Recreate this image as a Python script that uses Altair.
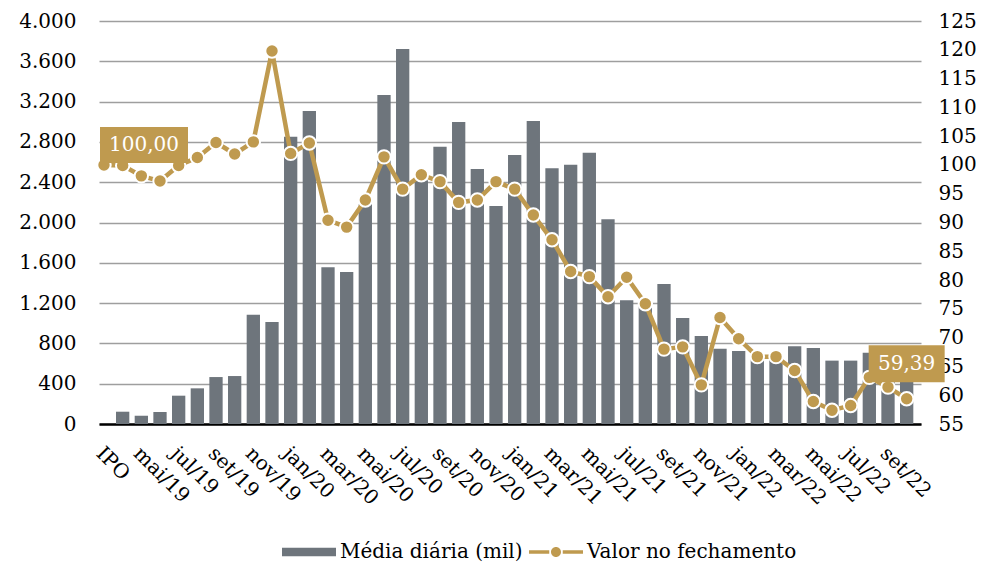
import altair as alt
import pandas as pd

# ---------------- data ----------------
months = ["IPO", "abr/19", "mai/19", "jun/19", "jul/19", "ago/19", "set/19", "out/19",
          "nov/19", "dez/19", "jan/20", "fev/20", "mar/20", "abr/20", "mai/20", "jun/20",
          "jul/20", "ago/20", "set/20", "out/20", "nov/20", "dez/20", "jan/21", "fev/21",
          "mar/21", "abr/21", "mai/21", "jun/21", "jul/21", "ago/21", "set/21", "out/21",
          "nov/21", "dez/21", "jan/22", "fev/22", "mar/22", "abr/22", "mai/22", "jun/22",
          "jul/22", "ago/22", "set/22", "out/22"]

# daily average traded (thousand) - left axis
volume = [None, 122, 82, 119, 281, 354, 466, 476, 1085, 1012, 2850, 3107, 1555, 1509,
          2180, 3265, 3722, 2420, 2752, 2997, 2531, 2164, 2670, 3007, 2538, 2574, 2693,
          2032, 1228, 1170, 1390, 1052, 873, 748, 724, 650, 680, 771, 754, 629, 629, 708,
          560, 480]

# closing value (base 100 at IPO) - right axis
close = [100.00, 99.9, 98.1, 97.2, 99.9, 101.3, 103.9, 101.9, 104.0, 119.8, 102.0, 103.8,
         90.4, 89.2, 93.9, 101.4, 95.8, 98.3, 97.1, 93.5, 93.9, 97.1, 95.8, 91.3, 87.0,
         81.5, 80.6, 77.1, 80.5, 75.9, 68.0, 68.4, 61.8, 73.5, 69.8, 66.7, 66.7, 64.3,
         58.9, 57.4, 58.2, 63.1, 61.4, 59.39]

left_ticks = list(range(0, 4001, 400))
right_ticks = list(range(55, 126, 5))

series_names = ["Média diária (mil)", "Valor no fechamento"]

# ---------------- styles ----------------
GRAY = "#6E757C"
GOLD = "#BF9A4F"
FONT = "DejaVu Serif"
FS = 20

idx = list(range(len(months)))
df = pd.DataFrame({"idx": idx, "mes": months, "volume": volume, "close": close})
df_bar = df.dropna(subset=["volume"])
df_line = df.copy()
df_legend = pd.DataFrame({"serie": series_names})

labels_js = "[" + ",".join("'" + m + "'" for m in months) + "]"

x_enc = alt.X(
    "idx:Q",
    scale=alt.Scale(domain=[0, len(months) - 0.5], nice=False, zero=False),
    axis=alt.Axis(
        values=list(range(0, len(months), 2)),
        labelExpr=labels_js + "[datum.value]",
        labelAngle=45, labelAlign="left", labelBaseline="middle",
        labelPadding=26, labelOffset=-5,
        labelFont=FONT, labelFontSize=FS, labelColor="black",
        ticks=False, grid=False, domain=True, domainColor="black", domainWidth=2.5,
        labelOverlap=False,
    ),
    title=None,
)

y_left = alt.Y(
    "volume:Q",
    scale=alt.Scale(domain=[0, 4000], nice=False),
    axis=alt.Axis(
        values=left_ticks,
        labelExpr="replace(format(datum.value, ','), ',', '.')",
        grid=True, gridColor="#9E9E9E", gridWidth=1.5,
        ticks=False, domain=False, labelPadding=23,
        labelFont=FONT, labelFontSize=FS, labelColor="black",
    ),
    title=None,
)

y_scale_right = alt.Scale(domain=[55, 125], nice=False, zero=False)
right_axis = alt.Axis(
    orient="right", values=right_ticks, grid=False, ticks=False, domain=False,
    labelPadding=17, labelAlign="left",
    labelFont=FONT, labelFontSize=FS, labelColor="black",
)
y_right = alt.Y("close:Q", scale=y_scale_right, axis=right_axis, title=None)

bar_symbol = "M-1,-0.16H1V0.16H-1Z"
line_symbol = ("M-1,-0.065H-0.25V0.065H-1Z M0.25,-0.065H1V0.065H0.25Z "
               "M-0.185,0A0.185,0.185 0 1,0 0.185,0A0.185,0.185 0 1,0 -0.185,0Z")

legend = alt.Legend(
    orient="none", legendX=183, legendY=504, direction="horizontal",
    title=None, labelFont=FONT, labelFontSize=FS, labelColor="black",
    symbolSize=2916, labelOffset=4, columnPadding=6, padding=0, labelLimit=0,
    symbolStrokeWidth=0, symbolOpacity=1,
)

bars = alt.Chart(df_bar).mark_bar(size=13.3, color=GRAY).encode(x=x_enc, y=y_left)

line = alt.Chart(df_line).mark_line(strokeWidth=4.5, color=GOLD).encode(x=x_enc, y=y_right)

points = alt.Chart(df_line).mark_point(
    filled=True, fill=GOLD, stroke="white", strokeWidth=2, size=180, opacity=1
).encode(x=x_enc, y=y_right)


def value_label(i, dx, dy, w, h):
    row = df_line.iloc[[i]].assign(txt=lambda d: d["close"].map(lambda v: f"{v:.2f}".replace(".", ",")))
    hh = h / w
    box = alt.Chart(row).mark_point(
        shape=f"M-1,{-hh}H1V{hh}H-1Z", filled=True, fill=GOLD, strokeWidth=0,
        opacity=1, size=w * w, xOffset=dx, yOffset=dy,
    ).encode(x=x_enc, y=y_right)
    txt = alt.Chart(row).mark_text(
        font=FONT, fontSize=FS, color="white", dx=dx, dy=dy, align="center", baseline="middle",
    ).encode(x=x_enc, y=y_right, text="txt:N")
    return [box, txt]


# legend-only layer (no rows drawn): carries colour + shape scales
legend_layer = alt.Chart(df_legend).mark_point(filled=True, opacity=1).encode(
    color=alt.Color("serie:N", scale=alt.Scale(domain=series_names, range=[GRAY, GOLD]), legend=legend),
    shape=alt.Shape("serie:N", scale=alt.Scale(domain=series_names, range=[bar_symbol, line_symbol]), legend=legend),
).transform_filter("false")

right_group = alt.layer(
    line, points, *value_label(0, 40, -20, 88, 36), *value_label(len(months) - 1, 0, -35, 76, 37)
)

chart = (
    alt.layer(bars, right_group, legend_layer)
    .resolve_scale(y="independent")
    .properties(
        width=822, height=403,
        autosize=alt.AutoSizeParams(type="none"),
        padding={"left": 91, "top": 13, "right": 55, "bottom": 141},
        background="white",
    )
    .configure_view(stroke=None)
)

chart.save("out.html", embed_options={"renderer": "svg", "actions": False})
